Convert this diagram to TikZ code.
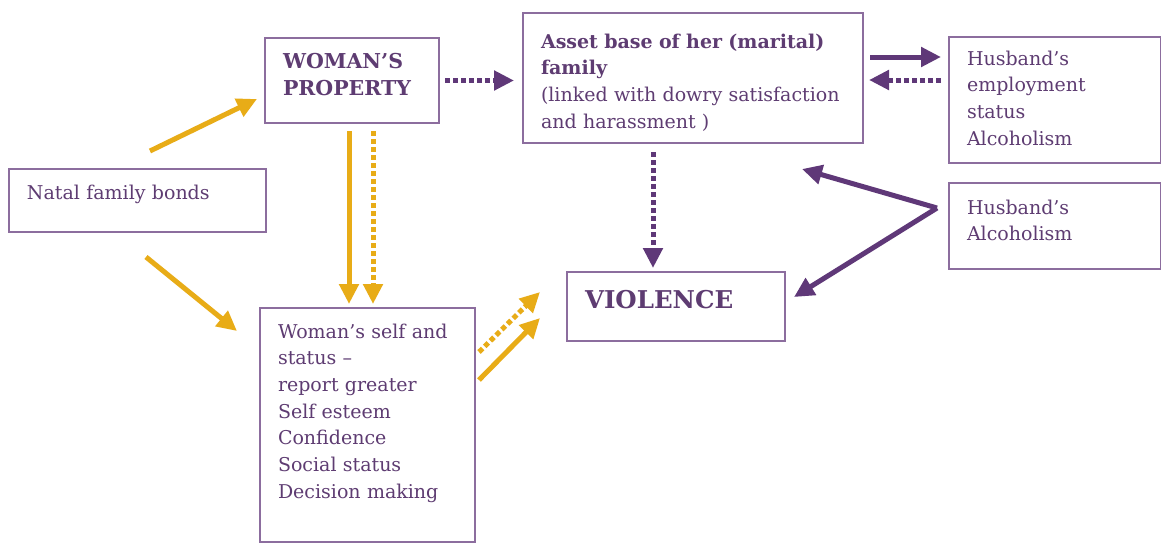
\documentclass[tikz,border=0pt]{standalone}
\usepackage{fontspec}
\setmainfont{DejaVu Serif}
\usetikzlibrary{positioning, arrows.meta}
\definecolor{tinta}{HTML}{5E3C72}
\definecolor{marco}{HTML}{8C6D9E}
\definecolor{violeta}{HTML}{5F3878}
\definecolor{ambar}{HTML}{E8AC17}

\begin{document}
\begin{tikzpicture}[x=1pt, y=-1pt,
  caja/.style={draw=marco, line width=2pt, anchor=north west, inner xsep=18pt, inner ysep=0pt,
               align=left, text=tinta, font=\fontsize{19}{26.7}\selectfont},
  flecha/.style={line width=5pt, -{Triangle[length=20pt, width=19pt]}},
  punteada/.style={flecha, dash pattern=on 5pt off 3pt}]
\useasboundingbox[fill=white] (0,0) rectangle (1161,544);

% cajas
\node[caja, text width=138pt, text height=30pt, text depth=55pt,
      font=\fontsize{20.5}{27}\selectfont\bfseries] (propiedad) at (264,37) {WOMAN’S\\PROPERTY};
\node[caja, text width=304pt, text height=35pt, text depth=95pt] (activos) at (522,12)
  {{\bfseries Asset base of her (marital)\\family}\\(linked with dowry satisfaction\\and harassment )};
\node[caja, text width=176pt, text height=28pt, text depth=98pt] (empleo) at (948,36)
  {Husband’s\\employment\\status\\Alcoholism};
\node[caja, text width=221pt, text height=30pt, text depth=33pt] (natal) at (8,168) {Natal family bonds};
\node[caja, text width=176pt, text height=31pt, text depth=55pt] (alcohol) at (948,182)
  {Husband’s\\Alcoholism};
\node[caja, text width=182pt, text height=36pt, text depth=33pt,
      font=\fontsize{24.5}{28}\selectfont\bfseries] (violencia) at (566,271) {VIOLENCE};
\node[caja, text width=179pt, text height=30pt, text depth=204pt] (estatus) at (259,307)
  {Woman’s self and\\status –\\report greater\\Self esteem\\Confidence\\Social status\\Decision making};

% extremos libres
\coordinate (natal-arriba) at (150,151);
\coordinate (natal-abajo) at (146,257);
\coordinate (prop-izq) at (257,99);
\coordinate (estatus-izq) at (237,331);
\coordinate (alcohol-pico) at (937,208);

% flechas ambar
\draw[flecha, ambar] (natal-arriba) -- (prop-izq);
\draw[flecha, ambar] (natal-abajo) -- (estatus-izq);
\draw[flecha, ambar, shorten <=7pt, shorten >=3pt] ([xshift=-3pt]propiedad.south) -- ([xshift=-3pt]propiedad.south |- estatus.north);
\draw[punteada, ambar, shorten <=7pt, shorten >=3pt] ([xshift=21pt]propiedad.south) -- ([xshift=21pt]propiedad.south |- estatus.north);
\draw[punteada, ambar] ([shift={(3pt,-45pt)}]estatus.north east) -- ([shift={(-26pt,-21pt)}]violencia.north west);
\draw[flecha, ambar] ([shift={(3pt,-73pt)}]estatus.north east) -- ([shift={(-26pt,-47pt)}]violencia.north west);

% flechas violeta
\draw[punteada, violeta, shorten <=5pt, shorten >=8pt] (propiedad.east) -- (propiedad.east -| activos.west);
\draw[flecha, violeta, shorten <=6pt, shorten >=7pt] ([yshift=-21pt]empleo.north west -| activos.east) -- ([yshift=-21pt]empleo.north west);
\draw[punteada, violeta, shorten <=7pt, shorten >=5pt] ([yshift=-44pt]empleo.north west) -- ([yshift=-44pt]empleo.north west -| activos.east);
\draw[punteada, violeta, shorten <=8pt, shorten >=3pt] ([xshift=-40pt]activos.south) -- ([xshift=-40pt]activos.south |- violencia.north);
\draw[flecha, violeta] (alcohol-pico) -- ([shift={(-62pt,-25pt)}]activos.south east);
\draw[flecha, violeta] (alcohol-pico) -- ([shift={(8pt,-26pt)}]violencia.north east);
\end{tikzpicture}
\end{document}
